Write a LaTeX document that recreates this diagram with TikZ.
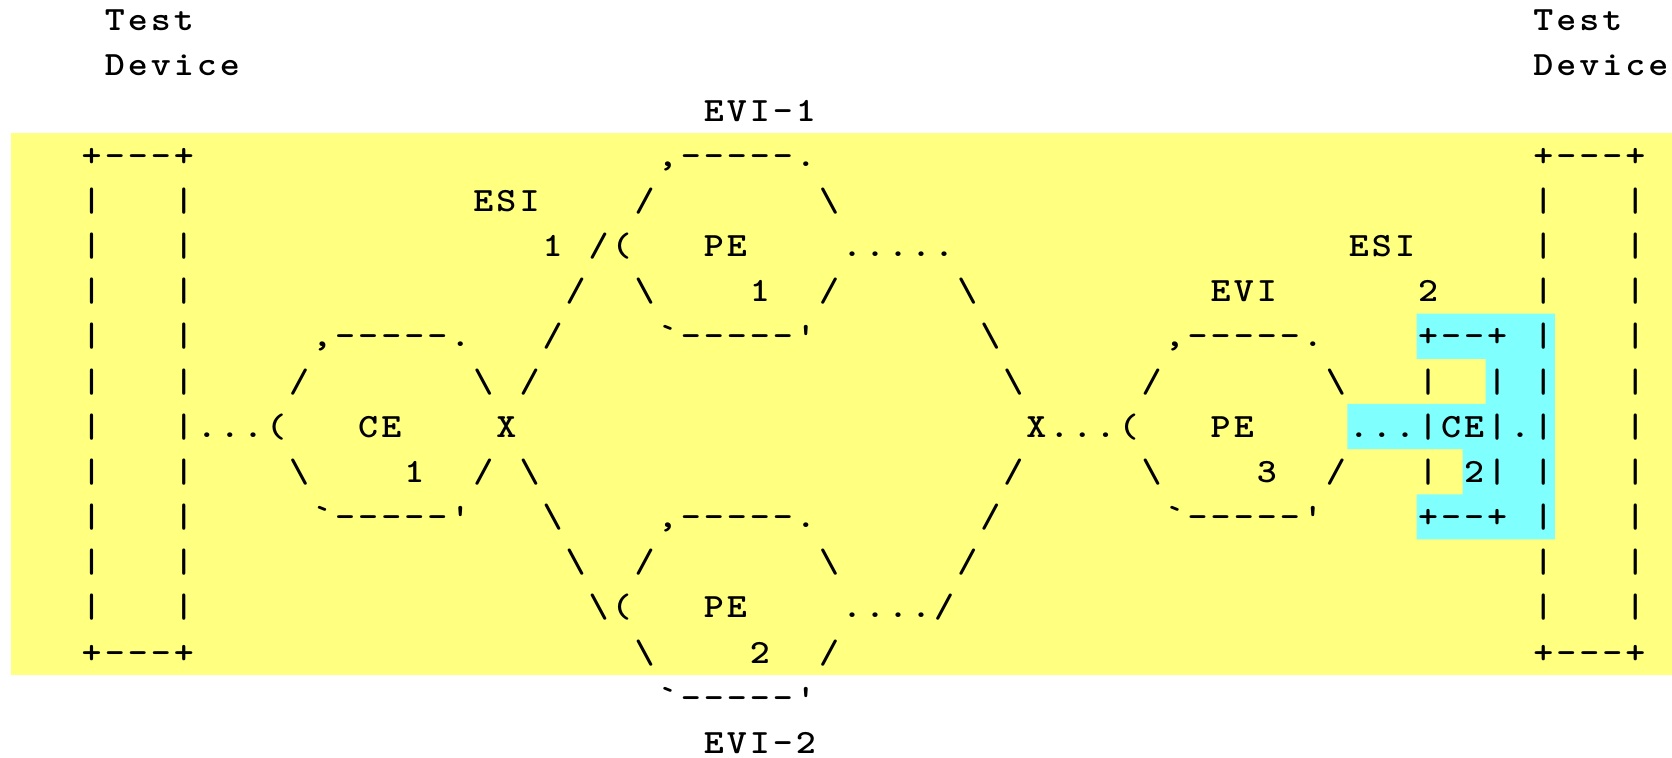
\documentclass[tikz,border=0pt]{standalone}
\usepackage{graphicx}
\definecolor{hlyellow}{RGB}{255,255,128}
\definecolor{hlcyan}{RGB}{128,255,255}
\makeatletter
\newcount\asc@col
\def\asc@line{0}
% one monospaced glyph per grid cell; "!" stands for a backslash
\def\asc@put#1{%
  \ifx!#1\def\asc@glyph{\textbackslash}\else\def\asc@glyph{#1}\fi
  \node[asciiglyph] (g\asc@line-\the\asc@col)
    at ({\the\asc@col*23.04+22.62},{-30.7-\asc@line*45.17})
    {\scalebox{1.12}[1]{\asc@glyph}};%
  \advance\asc@col by 1\relax}
\def\asc@loop#1{%
  \ifx\relax#1\expandafter\@gobble\else\expandafter\@firstofone\fi
  {\asc@put{#1}\asc@loop}}
% \asciiat{row}{first column}{characters}
\newcommand\asciiat[3]{\def\asc@line{#1}\asc@col=#2\relax\asc@loop#3\relax}
\makeatother
\begin{document}
\begin{tikzpicture}[x=0.5pt,y=0.5pt,
  asciiglyph/.style={anchor=base,inner sep=0pt,outer sep=0pt,
    font=\ttfamily\bfseries\fontsize{17}{17}\selectfont}]
\useasboundingbox (0,0) rectangle (1672,-758);
\fill[white] (0,0) rectangle (1672,-758);
% highlighted block of rows
\fill[hlyellow] (11.1,-133) rectangle (1672,-675.1);
% changed cells around CE 2
\fill[hlcyan] (1416.5,-313.7) -- (1554.8,-313.7) -- (1554.8,-539.5) -- (1416.5,-539.5)
  -- (1416.5,-494.4) -- (1462.6,-494.4) -- (1462.6,-449.2) -- (1347.4,-449.2)
  -- (1347.4,-404.0) -- (1485.7,-404.0) -- (1485.7,-358.9) -- (1416.5,-358.9) -- cycle;

% test devices
\asciiat{0}{4}{Test}\asciiat{0}{66}{Test}
\asciiat{1}{4}{Device}\asciiat{1}{66}{Device}
\asciiat{3}{3}{+---+}\asciiat{3}{66}{+---+}
\foreach \r in {4,5,6,7,8,10,11,12,13}{%
  \asciiat{\r}{3}{|}\asciiat{\r}{7}{|}\asciiat{\r}{66}{|}\asciiat{\r}{70}{|}}
\asciiat{9}{3}{|}\asciiat{9}{70}{|}
\asciiat{14}{3}{+---+}\asciiat{14}{66}{+---+}

% EVI-1 / PE 1
\asciiat{2}{30}{EVI-1}
\asciiat{3}{28}{,-----.}
\asciiat{4}{20}{ESI}\asciiat{4}{27}{/}\asciiat{4}{35}{!}
\asciiat{5}{23}{1}\asciiat{5}{25}{/(}\asciiat{5}{30}{PE}\asciiat{5}{36}{.....}\asciiat{5}{58}{ESI}
\asciiat{6}{24}{/}\asciiat{6}{27}{!}\asciiat{6}{32}{1}\asciiat{6}{35}{/}\asciiat{6}{41}{!}
\asciiat{6}{52}{EVI}\asciiat{6}{61}{2}
\asciiat{7}{13}{,-----.}\asciiat{7}{23}{/}\asciiat{7}{28}{`-----'}\asciiat{7}{42}{!}
\asciiat{7}{50}{,-----.}\asciiat{7}{61}{+--+}
\asciiat{8}{12}{/}\asciiat{8}{20}{!}\asciiat{8}{22}{/}\asciiat{8}{43}{!}\asciiat{8}{49}{/}
\asciiat{8}{57}{!}\asciiat{8}{61}{|}\asciiat{8}{64}{|}

% CE 1, PE 3, CE 2
\asciiat{9}{7}{|...(}\asciiat{9}{15}{CE}\asciiat{9}{21}{X}\asciiat{9}{44}{X...(}
\asciiat{9}{52}{PE}\asciiat{9}{58}{...|CE|.|}
\asciiat{10}{12}{!}\asciiat{10}{17}{1}\asciiat{10}{20}{/}\asciiat{10}{22}{!}\asciiat{10}{43}{/}
\asciiat{10}{49}{!}\asciiat{10}{54}{3}\asciiat{10}{57}{/}\asciiat{10}{61}{|}\asciiat{10}{63}{2|}
\asciiat{11}{13}{`-----'}\asciiat{11}{23}{!}\asciiat{11}{28}{,-----.}\asciiat{11}{42}{/}
\asciiat{11}{50}{`-----'}\asciiat{11}{61}{+--+}

% PE 2 / EVI-2
\asciiat{12}{24}{!}\asciiat{12}{27}{/}\asciiat{12}{35}{!}\asciiat{12}{41}{/}
\asciiat{13}{25}{!(}\asciiat{13}{30}{PE}\asciiat{13}{36}{..../}
\asciiat{14}{27}{!}\asciiat{14}{32}{2}\asciiat{14}{35}{/}
\asciiat{15}{28}{`-----'}
\asciiat{16}{30}{EVI-2}
\end{tikzpicture}
\end{document}
